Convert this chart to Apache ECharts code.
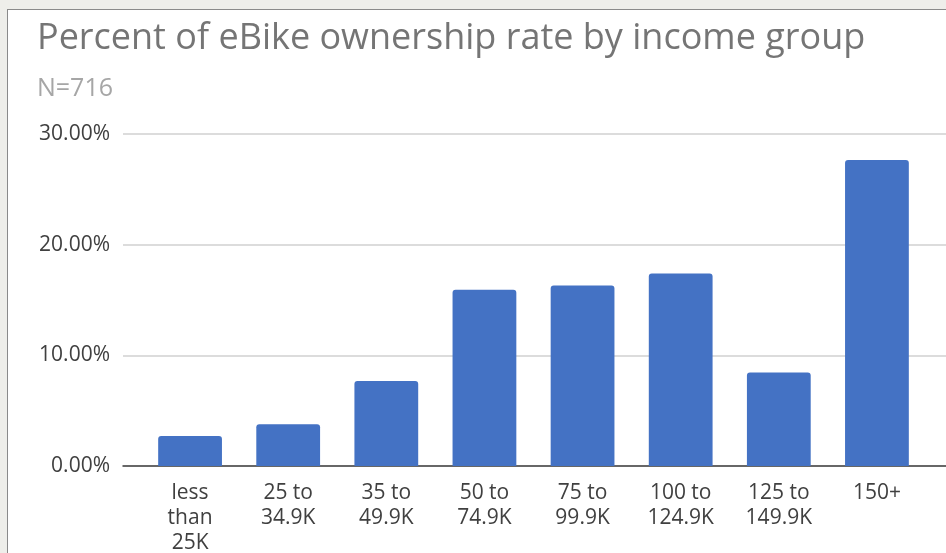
<!DOCTYPE html>
<html>
<head>
<meta charset="utf-8">
<script src="https://cdn.jsdelivr.net/npm/echarts@6/dist/echarts.min.js"></script>
<style>
  html, body { margin: 0; padding: 0; background: #eeeeea; overflow: hidden; }
  #frame {
    position: absolute; left: 7px; top: 9px; width: 960px; height: 560px;
    background: #ffffff; border: 1px solid #8a8a8a; box-sizing: border-box;
  }
  #chart { position: absolute; left: 0; top: 0; width: 946px; height: 553px; }
</style>
</head>
<body>
<div id="frame"></div>
<div id="chart"></div>
<script>
// income groups on the x axis
const categories = [
  'less\nthan\n25K', '25 to\n34.9K', '35 to\n49.9K', '50 to\n74.9K',
  '75 to\n99.9K', '100 to\n124.9K', '125 to\n149.9K', '150+'
]
// ownership rate, percent
const ownershipRate = [2.7, 3.77, 7.69, 15.92, 16.31, 17.4, 8.45, 27.65]
const yTicks = [0, 10, 20, 30]

const font = 'Open Sans'
const chart = echarts.init(document.getElementById('chart'))

chart.setOption({
  backgroundColor: 'transparent',
  animation: false,
  title: [{
    text: 'Percent of eBike ownership rate by income group',
    left: 32,
    top: 16,
    textStyle: { fontFamily: font, fontWeight: 'normal', fontSize: 36, color: '#757575' }
  }, {
    text: 'N=716',
    left: 32,
    top: 71,
    textStyle: { fontFamily: font, fontWeight: 'normal', fontSize: 25, color: '#a6a6a6' }
  }],
  grid: [
    // background grid for gridlines and y labels (wider than the bars)
    { left: 123, right: 0, top: 134, bottom: 87, outerBoundsMode: 'none' },
    // grid holding the bars
    { left: 141, right: 20, top: 134, bottom: 87, outerBoundsMode: 'none' }
  ],
  xAxis: [{
    gridIndex: 0,
    type: 'value',
    min: 0,
    max: 1,
    axisLabel: { show: false },
    axisTick: { show: false },
    splitLine: { show: false },
    axisLine: { show: true, lineStyle: { color: '#404040', width: 1.5 } }
  }, {
    gridIndex: 1,
    type: 'category',
    data: categories,
    axisLine: { show: false },
    axisTick: { show: false },
    axisLabel: {
      interval: 0,
      margin: 15,
      fontFamily: font,
      fontSize: 21,
      lineHeight: 25,
      color: '#404040',
      verticalAlign: 'top'
    }
  }],
  yAxis: [{
    gridIndex: 0,
    type: 'value',
    min: yTicks[0],
    max: yTicks[yTicks.length - 1],
    interval: 10,
    axisLine: { show: false },
    axisTick: { show: false },
    axisLabel: {
      margin: 13,
      fontFamily: font,
      fontSize: 21,
      color: '#404040',
      formatter: function (v) { return v.toFixed(2) + '%' }
    },
    splitLine: { lineStyle: { color: '#d0d0d0', width: 1.5 } }
  }, {
    gridIndex: 1,
    type: 'value',
    min: 0,
    max: 30,
    show: false
  }],
  series: [{
    type: 'bar',
    xAxisIndex: 1,
    yAxisIndex: 1,
    barCategoryGap: '35%',
    itemStyle: { color: '#4472c4', borderRadius: [3, 3, 0, 0] },
    data: ownershipRate
  }]
})
</script>
</body>
</html>
